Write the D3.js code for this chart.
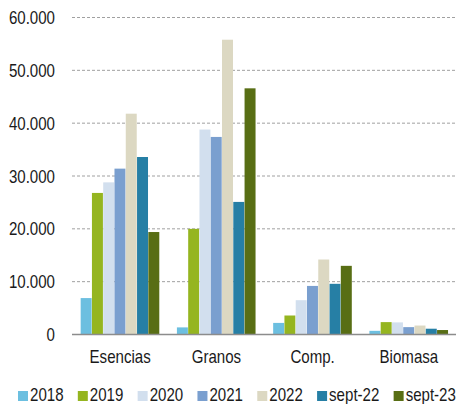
<!DOCTYPE html>
<html><head><meta charset="utf-8">
<script src="https://cdn.jsdelivr.net/npm/d3@7"></script>
<style>
body{margin:0;background:#fff;}
text{font-family:"Liberation Sans",Arial,sans-serif;fill:#1a1a1a;}
</style></head><body>
<svg id="c" width="456" height="404"></svg>
<script>
const categories = ["Esencias","Granos","Comp.","Biomasa"];
const seriesNames = ["2018","2019","2020","2021","2022","sept-22","sept-23"];
const s2018 = [6800, 1250, 2100, 600];
const s2019 = [26700, 19900, 3500, 2250];
const s2020 = [28700, 38700, 6400, 2200];
const s2021 = [31300, 37300, 9100, 1300];
const s2022 = [41700, 55700, 14100, 1600];
const sSep22 = [33500, 25000, 9500, 1000];
const sSep23 = [19300, 46500, 12900, 750];
const yTicks = [0,10000,20000,30000,40000,50000,60000];
const colors = ["#6cbfe0","#95b520","#d2dfee","#7a9fcf","#dcd8c2","#267fa5","#586e14"];
const seriesValues = [s2018,s2019,s2020,s2021,s2022,sSep22,sSep23];

const FS = 18.5, SX = 0.815;
const svg = d3.select("#c");
const x = d3.scaleBand().domain(categories).range([72,457]).paddingInner(0.18).paddingOuter(0.09);
const xs = d3.scaleBand().domain(seriesNames).range([0,x.bandwidth()]);
const y = d3.scaleLinear().domain([0,60000]).range([334,17]);
const fmt = v => v===0 ? "0" : d3.format(",")(v).replace(/,/g,".");

// gridlines
svg.append("g").selectAll("line").data(yTicks.filter(t=>t>0)).join("line")
  .attr("x1",72).attr("x2",456).attr("y1",d=>y(d)+0.5).attr("y2",d=>y(d)+0.5)
  .attr("stroke","#a0a0a0").attr("stroke-width",1).attr("stroke-dasharray","3,2");

// y axis labels
const yAxis = d3.axisLeft(y).tickValues(yTicks).tickFormat(fmt).tickSize(0).tickPadding(0);
const ga = svg.append("g").attr("transform","translate(55,0)").call(yAxis);
ga.select(".domain").remove();
ga.selectAll("text").attr("font-size",FS).attr("font-family",null).attr("fill","#1a1a1a")
  .attr("x",0).attr("dy","0.36em").attr("transform",`scale(${SX},1)`);

// bars
const groups = svg.append("g").selectAll("g").data(categories).join("g")
  .attr("transform",c=>`translate(${x(c)},0)`);
groups.selectAll("rect").data((c,ci)=>seriesNames.map((s,si)=>({s,si,v:seriesValues[si][ci]}))).join("rect")
  .attr("x",d=>xs(d.s)).attr("width",xs.bandwidth()-0.3)
  .attr("y",d=>y(d.v)).attr("height",d=>y(0)-y(d.v))
  .attr("fill",d=>colors[d.si]);

// zero line
svg.append("line").attr("x1",72).attr("x2",456).attr("y1",y(0)+0.5).attr("y2",y(0)+0.5)
  .attr("stroke","#8c8c8c").attr("stroke-width",1.5);

// category labels
const xAxis = d3.axisBottom(x).tickSize(0).tickPadding(0);
const gx = svg.append("g").attr("transform","translate(0,350)").call(xAxis);
gx.select(".domain").remove();
gx.selectAll("text").attr("font-size",FS).attr("font-family",null).attr("fill","#1a1a1a")
  .attr("y",0).attr("dy","0.71em").attr("transform",`scale(${SX},1)`);

// legend
const lg = svg.append("g").attr("transform","translate(0,401)");
let tx = 30;
seriesNames.forEach((s,i)=>{
  lg.append("rect").attr("x",tx-12).attr("y",-10).attr("width",10).attr("height",10).attr("fill",colors[i]);
  const t = lg.append("text").attr("font-size",FS)
    .attr("transform",`translate(${tx},0) scale(${SX},1)`).text(s);
  tx += t.node().getComputedTextLength()*SX + 26.3;
});
</script></body></html>
